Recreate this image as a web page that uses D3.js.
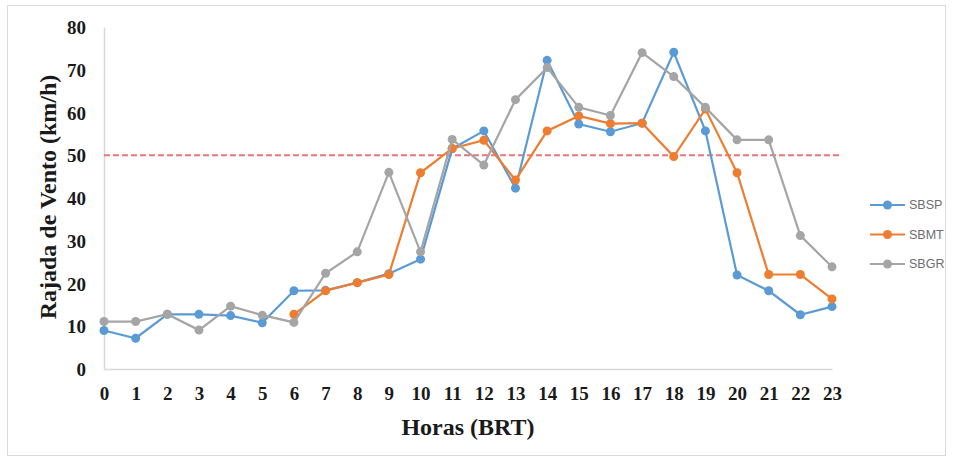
<!DOCTYPE html>
<html>
<head>
<meta charset="utf-8">
<script src="https://cdn.jsdelivr.net/npm/d3@7"></script>
<style>
  body { margin: 0; background: #fff; }
  .tick text { font-family: "Liberation Serif", "Times New Roman", serif; font-weight: bold; font-size: 19px; fill: #1a1a1a; }
  .legend text { font-family: "Liberation Sans", Arial, sans-serif; font-size: 12.5px; fill: #6d6d6d; }
</style>
</head>
<body>
<script>
// hours 0..23
var hours = d3.range(0, 24);
var yTicks = [0, 10, 20, 30, 40, 50, 60, 70, 80];
var limit = 50;

var sbsp = [9, 7.2, 12.8, 12.8, 12.5, 10.8, 18.3, 18.4, 20.2, 22.3, 25.7, 51.5, 55.7, 42.3, 72.2, 57.3, 55.5, 57.5, 74.1, 55.7, 22.0, 18.3, 12.7, 14.6];
var sbmt = [null, null, null, null, null, null, 12.8, 18.3, 20.2, 22.1, 45.9, 51.6, 53.5, 44.2, 55.7, 59.2, 57.4, 57.5, 49.7, 60.8, 45.9, 22.1, 22.1, 16.4];
var sbgr = [11.1, 11.1, 12.8, 9.1, 14.7, 12.6, 10.9, 22.4, 27.4, 46.0, 27.4, 53.7, 47.7, 63.0, 70.5, 61.2, 59.3, 74.0, 68.4, 61.2, 53.6, 53.6, 31.2, 23.9];

var seriesNames = ["SBSP", "SBMT", "SBGR"];
var seriesData = [sbsp, sbmt, sbgr];
var colors = ["#5B9BD5", "#ED7D31", "#A5A5A5"];

var W = 953, H = 459;
var svg = d3.select("body").append("svg")
    .attr("width", W)
    .attr("height", H);

// outer frame
svg.append("rect")
    .attr("x", 7.5).attr("y", 5.5)
    .attr("width", 938).attr("height", 450)
    .attr("fill", "none")
    .attr("stroke", "#d9d9d9");

var xScale = d3.scaleLinear().domain([0, 23]).range([104, 832]);
var yScale = d3.scaleLinear().domain([0, 80]).range([369, 27]);

// y axis
var yAxis = d3.axisLeft(yScale).tickValues(yTicks).tickSize(0).tickPadding(18);
var gy = svg.append("g").attr("transform", "translate(104,0)").call(yAxis);
gy.select(".domain").attr("stroke", "#d9d9d9").attr("stroke-width", 1.5);
gy.selectAll(".tick text").attr("dy", "0.35em");

// x axis
var xAxis = d3.axisBottom(xScale).tickValues(hours).tickSize(0).tickPadding(18).tickFormat(d3.format("d"));
var gx = svg.append("g").attr("transform", "translate(0,369)").call(xAxis);
gx.select(".domain").attr("stroke", "#d9d9d9").attr("stroke-width", 1.5);

// limit line
svg.append("line")
    .attr("x1", xScale(0)).attr("x2", xScale(23) + 8)
    .attr("y1", yScale(limit)).attr("y2", yScale(limit))
    .attr("stroke", "#E8767A")
    .attr("stroke-width", 2)
    .attr("stroke-dasharray", "6,3");

var line = d3.line()
    .defined(function (d) { return d != null; })
    .x(function (d, i) { return xScale(hours[i]); })
    .y(function (d) { return yScale(d); });

// series in excel order: blue, orange, grey
seriesData.forEach(function (data, k) {
    var g = svg.append("g");
    g.append("path")
        .datum(data)
        .attr("fill", "none")
        .attr("stroke", colors[k])
        .attr("stroke-width", 2.2)
        .attr("d", line);
    g.selectAll("circle")
        .data(data.map(function (v, i) { return { h: hours[i], v: v }; }).filter(function (d) { return d.v != null; }))
      .enter().append("circle")
        .attr("cx", function (d) { return xScale(d.h); })
        .attr("cy", function (d) { return yScale(d.v); })
        .attr("r", 4.5)
        .attr("fill", colors[k]);
});

// axis titles
svg.append("text")
    .attr("x", 468).attr("y", 435)
    .attr("text-anchor", "middle")
    .style("font-family", "'Liberation Serif', 'Times New Roman', serif")
    .style("font-weight", "bold")
    .style("font-size", "24px")
    .style("fill", "#1a1a1a")
    .text("Horas (BRT)");

svg.append("text")
    .attr("transform", "translate(56,197) rotate(-90)")
    .attr("text-anchor", "middle")
    .style("font-family", "'Liberation Serif', 'Times New Roman', serif")
    .style("font-weight", "bold")
    .style("font-size", "24px")
    .style("fill", "#1a1a1a")
    .text("Rajada de Vento (km/h)");

// legend
var legend = svg.append("g").attr("class", "legend");
seriesNames.forEach(function (name, k) {
    var ly = 205 + k * 29.5;
    legend.append("line")
        .attr("x1", 870).attr("x2", 905)
        .attr("y1", ly).attr("y2", ly)
        .attr("stroke", colors[k]).attr("stroke-width", 2.2);
    legend.append("circle")
        .attr("cx", 887.5).attr("cy", ly).attr("r", 4.5)
        .attr("fill", colors[k]);
    legend.append("text")
        .attr("x", 909).attr("y", ly).attr("dy", "0.35em")
        .text(name);
});
</script>
</body>
</html>
